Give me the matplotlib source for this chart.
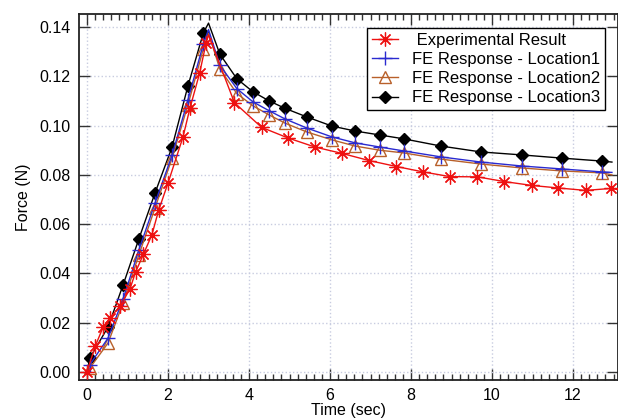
import numpy as np
import matplotlib
matplotlib.use("Agg")
import matplotlib.pyplot as plt
from matplotlib.ticker import MultipleLocator

plt.rcParams.update({"font.family": ["Liberation Sans", "DejaVu Sans"]})

# --- data ---
t_exp = [0.0, 0.2, 0.4, 0.57, 0.82, 1.06, 1.2, 1.39, 1.6, 1.77, 2.0, 2.37, 2.54, 2.78,
         2.94, 3.0, 3.64, 4.31, 4.96, 5.63, 6.3, 6.97, 7.64, 8.3, 8.96, 9.64, 10.3,
         10.99, 11.63, 12.31, 12.94, 13.11]
f_exp = [0.0, 0.0104, 0.0183, 0.022, 0.0268, 0.0337, 0.0406, 0.0477, 0.0556, 0.0657,
         0.0767, 0.0954, 0.107, 0.1213, 0.1335, 0.1368, 0.1093, 0.0993, 0.0950, 0.0913,
         0.0887, 0.0858, 0.0834, 0.0812, 0.0793, 0.0792, 0.0773, 0.0757, 0.0747, 0.0737,
         0.0745, 0.0740]

t_fe = [0.0, 0.07, 0.52, 0.89, 1.28, 1.68, 2.10, 2.49, 2.87, 3.00, 3.28, 3.70, 4.10,
        4.50, 4.89, 5.43, 6.05, 6.62, 7.23, 7.83, 8.74, 9.73, 10.74, 11.73, 12.72, 12.96]
f_loc1 = [0.0, 0.003, 0.0138, 0.0296, 0.0495, 0.0686, 0.088, 0.1104, 0.1330, 0.139,
          0.1245, 0.115, 0.1096, 0.106, 0.1027, 0.099, 0.0954, 0.093, 0.0913, 0.0897,
          0.0873, 0.0852, 0.0836, 0.0824, 0.0812, 0.0810]
f_loc2 = [0.0, 0.0016, 0.0118, 0.028, 0.0475, 0.0666, 0.0868, 0.1083, 0.131, 0.1375,
          0.123, 0.113, 0.108, 0.1043, 0.101, 0.0974, 0.0942, 0.0917, 0.090, 0.0889,
          0.0864, 0.0844, 0.0828, 0.0816, 0.0808, 0.0800]
f_loc3 = [0.0, 0.0057, 0.0183, 0.0353, 0.054, 0.0727, 0.0913, 0.116, 0.1375, 0.1416,
          0.129, 0.119, 0.1137, 0.110, 0.107, 0.1035, 0.0998, 0.0978, 0.0962, 0.0946,
          0.0917, 0.0893, 0.0881, 0.0868, 0.0856, 0.0852]

labels = [" Experimental Result", "FE Response - Location1",
          "FE Response - Location2", "FE Response - Location3"]

# marker positions (no marker on the peak or the end point)
mk_exp = [i for i in range(len(t_exp)) if i not in (15, len(t_exp) - 1)]
mk_fe = [i for i in range(len(t_fe)) if i not in (0, 9, len(t_fe) - 1)]

fig = plt.figure(figsize=(6.18, 4.2), dpi=100)
ax = fig.add_axes([79 / 618, 40 / 420, 539 / 618, 366 / 420])

h3, = ax.plot(t_fe, f_loc3, "-", color="black", lw=1.0, marker="D", ms=6,
              markevery=mk_fe, zorder=3)
h2, = ax.plot(t_fe, f_loc2, "-", color="#b8602a", lw=1.0, marker="^", ms=8,
              mfc="none", mec="#b8602a", mew=1.0, markevery=mk_fe, zorder=4)
h1, = ax.plot(t_fe, f_loc1, "-", color="#2a2ad0", lw=1.0, marker="+", ms=10,
              mew=1.0, markevery=mk_fe, zorder=5)
h0, = ax.plot(t_exp, f_exp, "-", color="#ee1111", lw=1.0, marker=(8, 2, 0), ms=10,
              mew=0.9, markevery=mk_exp, zorder=6)

ax.set_xlim(-0.198, 13.11)
ax.set_ylim(-0.00325, 0.1453)
ax.xaxis.set_major_locator(MultipleLocator(2))
ax.xaxis.set_minor_locator(MultipleLocator(0.2))
ax.yaxis.set_major_locator(MultipleLocator(0.02))
ax.yaxis.set_major_formatter(matplotlib.ticker.FormatStrFormatter("%.2f"))

ax.grid(True, which="major", color="#c8cce0", ls=":", lw=1.0)
ax.tick_params(which="both", direction="in", top=True, right=True, colors="#333333",
               labelsize=11.5, labelcolor="black")
ax.tick_params(which="major", length=8, width=1.0, pad=6)
ax.tick_params(which="minor", length=4, width=1.0)
for s in ax.spines.values():
    s.set_linewidth(1.3)
    s.set_color("#222222")

ax.set_xlabel("Time (sec)", fontsize=11.5, labelpad=0)
ax.set_ylabel("Force (N)", fontsize=11.5, labelpad=6)

leg = ax.legend([h0, h1, h2, h3], labels, loc="upper right",
                bbox_to_anchor=(0.976, 0.962), borderaxespad=0, fontsize=12,
                frameon=True, fancybox=False, edgecolor="black", framealpha=1,
                handlelength=1.6, handletextpad=0.8, labelspacing=0.25,
                borderpad=0.3)
leg.get_frame().set_linewidth(1.0)

fig.savefig("out.png", dpi=100)
